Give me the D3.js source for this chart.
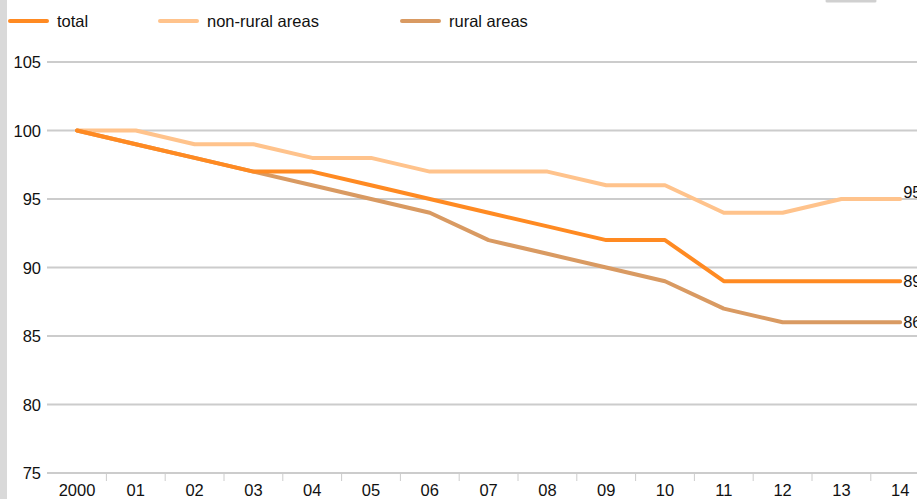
<!DOCTYPE html>
<html>
<head>
<meta charset="utf-8">
<script src="https://cdn.jsdelivr.net/npm/d3@7"></script>
<style>
	body { margin: 0; background: #fff; }
	svg { display: block; font-family: "Liberation Sans", Arial, sans-serif; }
</style>
</head>
<body>
<svg id="chart" width="917" height="499"></svg>
<script>
var years = ['2000', '01', '02', '03', '04', '05', '06', '07', '08', '09', '10', '11', '12', '13', '14'];
var total = [100, 99, 98, 97, 97, 96, 95, 94, 93, 92, 92, 89, 89, 89, 89];
var nonRural = [100, 100, 99, 99, 98, 98, 97, 97, 97, 96, 96, 94, 94, 95, 95];
var rural = [100, 99, 98, 97, 96, 95, 94, 92, 91, 90, 89, 87, 86, 86, 86];
var yTicks = [75, 80, 85, 90, 95, 100, 105];

var series = [
	{ name: 'non-rural areas', values: nonRural, color: '#ffc38c', lx: 160, dy: -7 },
	{ name: 'rural areas', values: rural, color: '#d99a62', lx: 402, dy: 0 },
	{ name: 'total', values: total, color: '#ff8a22', lx: 10, dy: 0 }
];

var fs = '16.5px';
var svg = d3.select('#chart');

// grey strip on the left edge
svg.append('rect').attr('x', 0).attr('y', 0).attr('width', 7).attr('height', 499).style('fill', '#d9d9d9');
// little grey mark at top right
svg.append('line').attr('x1', 827).attr('x2', 875).attr('y1', 1).attr('y2', 1)
	.style('stroke', '#d0d0d0').style('stroke-width', 3).style('stroke-linecap', 'round');

var x = d3.scaleBand().domain(years).range([47.6, 47.6 + 58.8 * 15]);
var y = d3.scaleLinear().domain([75, 105]).range([473, 62]);

// gridlines
svg.append('g').selectAll('line').data(yTicks).enter().append('line')
	.attr('x1', 47).attr('x2', 917)
	.attr('y1', function (d) { return y(d); })
	.attr('y2', function (d) { return y(d); })
	.style('stroke', '#cccccc').style('stroke-width', 2);

// y labels
svg.append('g').selectAll('text').data(yTicks).enter().append('text')
	.attr('x', 41).attr('y', function (d) { return y(d) + 6; })
	.style('text-anchor', 'end').style('font-size', fs).style('fill', '#111')
	.text(function (d) { return d; });

// x axis ticks between categories
svg.append('g').selectAll('line').data(years.slice(1)).enter().append('line')
	.attr('x1', function (d) { return x(d); }).attr('x2', function (d) { return x(d); })
	.attr('y1', 473).attr('y2', 481)
	.style('stroke', '#cccccc').style('stroke-width', 1);

svg.append('g').selectAll('text').data(years).enter().append('text')
	.attr('x', function (d) { return x(d) + x.bandwidth() / 2; })
	.attr('y', 496)
	.style('text-anchor', 'middle').style('font-size', fs).style('fill', '#111')
	.text(function (d) { return d; });

var line = d3.line()
	.x(function (d, i) { return x(years[i]) + x.bandwidth() / 2; })
	.y(function (d) { return y(d); });

series.forEach(function (s) {
	svg.append('path').datum(s.values)
		.attr('d', line)
		.style('fill', 'none').style('stroke', s.color).style('stroke-width', 4)
		.style('stroke-linecap', 'round').style('stroke-linejoin', 'round');
	var last = s.values[s.values.length - 1];
	svg.append('text')
		.attr('x', x(years[years.length - 1]) + x.bandwidth() / 2 + 3)
		.attr('y', y(last) + 6 + s.dy)
		.style('font-size', fs).style('fill', '#111')
		.text(last);
	// legend
	svg.append('line')
		.attr('x1', s.lx).attr('x2', s.lx + 37).attr('y1', 21).attr('y2', 21)
		.style('stroke', s.color).style('stroke-width', 4).style('stroke-linecap', 'round');
	svg.append('text')
		.attr('x', s.lx + 47).attr('y', 27)
		.style('font-size', fs).style('fill', '#111')
		.text(s.name);
});
</script>
</body>
</html>
